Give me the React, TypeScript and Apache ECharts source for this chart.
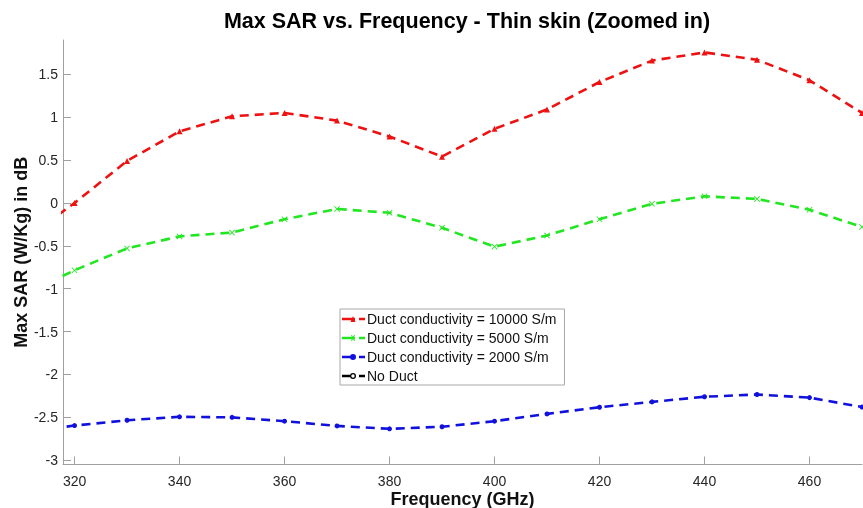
import React, { useEffect, useRef } from "react";
import * as echarts from "echarts";

const freqs = [310, 320, 330, 340, 350, 360, 370, 380, 390, 400, 410, 420, 430, 440, 450, 460, 470];
const duct10000 = [-0.45, 0.0, 0.49, 0.835, 1.01, 1.05, 0.96, 0.775, 0.54, 0.865, 1.09, 1.41, 1.66, 1.755, 1.67, 1.43, 1.05];
const duct5000 = [-1.08, -0.785, -0.53, -0.39, -0.345, -0.19, -0.07, -0.115, -0.29, -0.51, -0.38, -0.19, -0.01, 0.077, 0.047, -0.08, -0.28];
const duct2000 = [-2.68, -2.596, -2.534, -2.494, -2.5, -2.545, -2.6, -2.634, -2.61, -2.545, -2.46, -2.382, -2.32, -2.26, -2.234, -2.27, -2.38];
const noDuct: number[] = [];

const xTicks = [320, 340, 360, 380, 400, 420, 440, 460];
const yTicks = [-3, -2.5, -2, -1.5, -1, -0.5, 0, 0.5, 1, 1.5];

const seriesNames = [
  "Duct conductivity = 10000 S/m",
  "Duct conductivity = 5000 S/m",
  "Duct conductivity = 2000 S/m",
  "No Duct",
];

const FONT = "Liberation Sans, Arial, sans-serif";

const LINE = "M0,1.75L13,1.75L13,4.25L0,4.25Z";
const DASH = "M17,1.75L23,1.75L23,4.25L17,4.25Z";
const legendIcons = [
  `path://${LINE} M8.5,6L11,0L13.5,6Z ${DASH}`,
  `path://${LINE} M9,0L10,0L13,6L12,6Z M12,0L13,0L10,6L9,6Z ${DASH}`,
  `path://${LINE} M8,3A3,3 0 1 1 14,3A3,3 0 1 1 8,3Z ${DASH}`,
  `path://M0,1.75L8.2,1.75L8.2,4.25L0,4.25Z M8,3A3,3 0 1 1 14,3A3,3 0 1 1 8,3Z M9.3,3A1.7,1.7 0 1 0 12.7,3A1.7,1.7 0 1 0 9.3,3Z ${DASH}`,
];

export default function App() {
  const ref = useRef<HTMLDivElement>(null);
  useEffect(() => {
    if (!ref.current) return;
    const chart = echarts.init(ref.current, null, { renderer: "svg" });
    const pair = (vals: number[]) => vals.map((v, i) => [freqs[i], v]);
    const mk = (name: string, data: number[][], color: string, symbol: string, size: number) => ({
      name,
      type: "line",
      data,
      symbol,
      symbolSize: size,
      showAllSymbol: true,
      clip: true,
      itemStyle: { color },
      lineStyle: { color, width: 2.6, type: [9, 6] },
      emphasis: { disabled: true },
    });
    chart.setOption({
      animation: false,
      textStyle: { fontFamily: FONT },
      graphic: [
        {
          type: "text",
          x: 467,
          y: 21,
          style: {
            text: "Max SAR vs. Frequency - Thin skin (Zoomed in)",
            font: `bold 21.5px ${FONT}`,
            fill: "#000",
            textAlign: "center",
            textVerticalAlign: "middle",
          },
        },
      ],
      grid: { left: 63, top: 40, width: 799, height: 424.5, containLabel: false, outerBoundsMode: "none" },
      legend: {
        orient: "vertical",
        left: 340,
        top: 309,
        padding: [3, 8, 2, 2],
        itemGap: 5,
        itemWidth: 23,
        itemHeight: 6,
        backgroundColor: "#fff",
        borderColor: "#a8a8a8",
        borderWidth: 1,
        borderRadius: 0,
        textStyle: { fontSize: 14, color: "#111", fontFamily: FONT, padding: [0, 0, 0, -3] },
        data: seriesNames.map((n, i) => ({ name: n, icon: legendIcons[i] })),
      },
      xAxis: {
        type: "value",
        min: 317.8,
        max: 470,
        name: "Frequency (GHz)",
        nameLocation: "middle",
        nameGap: 25,
        nameMoveOverlap: false,
        nameTextStyle: { fontSize: 18, fontWeight: "bold", color: "#111", fontFamily: FONT },
        axisLine: { show: true, onZero: false, lineStyle: { color: "#a0a0a0", width: 1 } },
        axisTick: { show: true, inside: true, length: 8, customValues: xTicks, lineStyle: { color: "#a0a0a0" } },
        axisLabel: { customValues: xTicks, fontSize: 14, color: "#262626", margin: 9, fontFamily: FONT },
        splitLine: { show: false },
      },
      yAxis: {
        type: "value",
        min: -3.05,
        max: 1.9,
        name: "Max SAR (W/Kg) in dB",
        nameLocation: "middle",
        nameGap: 33,
        nameMoveOverlap: false,
        nameTextStyle: { fontSize: 18, fontWeight: "bold", color: "#111", fontFamily: FONT },
        axisLine: { show: true, onZero: false, lineStyle: { color: "#a0a0a0", width: 1 } },
        axisTick: { show: true, inside: true, length: 8, customValues: yTicks, lineStyle: { color: "#a0a0a0" } },
        axisLabel: { customValues: yTicks, fontSize: 14, color: "#262626", margin: 5, fontFamily: FONT },
        splitLine: { show: false },
      },
      series: [
        mk(seriesNames[0], pair(duct10000), "#ee1111", "triangle", 6),
        mk(seriesNames[1], pair(duct5000), "#22e622", "path://M0,1L1,0L5,4L9,0L10,1L6,5L10,9L9,10L5,6L1,10L0,9L4,5Z", 6),
        mk(seriesNames[2], pair(duct2000), "#1111dd", "circle", 5),
        mk(seriesNames[3], pair(noDuct), "#000000", "emptyCircle", 5),
      ],
    });
    return () => chart.dispose();
  }, []);
  return <div ref={ref} style={{ position: "fixed", left: 0, top: 0, width: 863, height: 508 }} />;
}
